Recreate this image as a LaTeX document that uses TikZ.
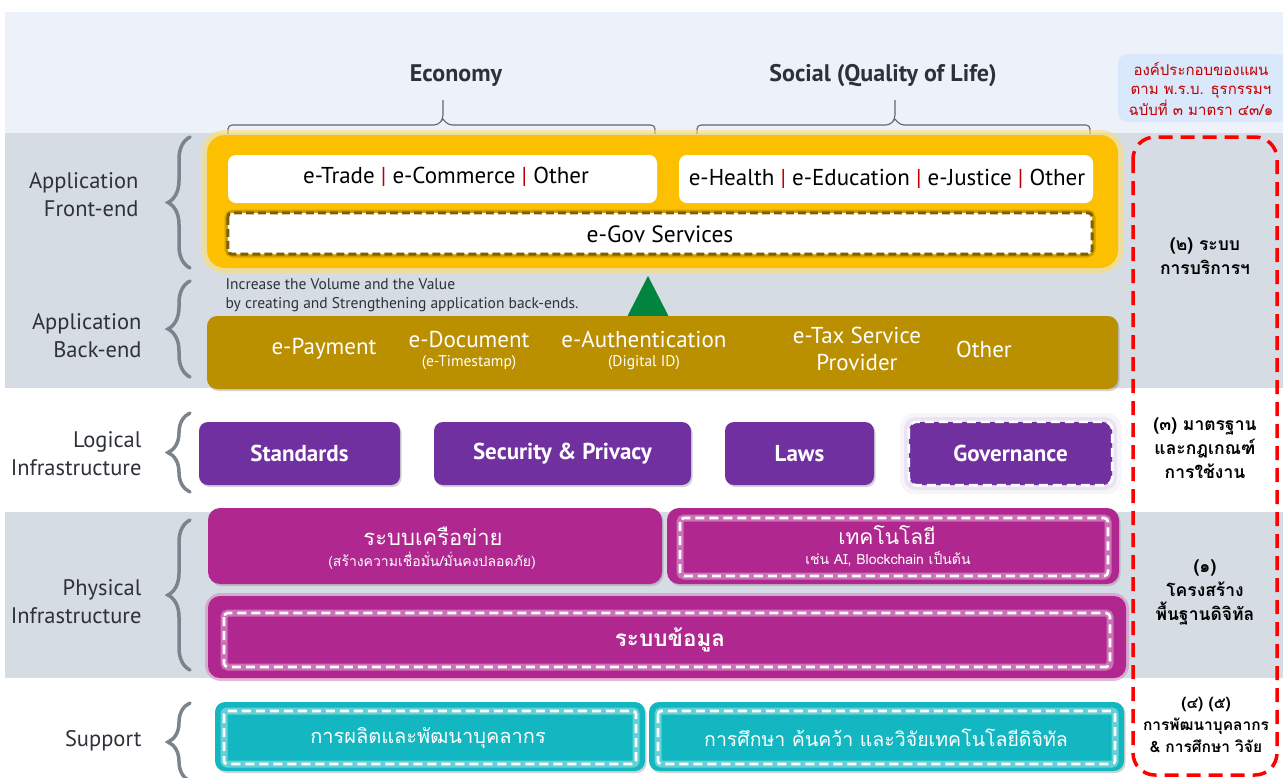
\documentclass[tikz,border=0pt]{standalone}
\usepackage{fontspec}
\setmainfont{PT Sans}
\newfontfamily\thai[Script=Thai]{Loma}
\usetikzlibrary{shadows,decorations.pathreplacing}
\definecolor{topband}{HTML}{EDF1F9}
\definecolor{grayband}{HTML}{D6DCE4}
\definecolor{amber}{HTML}{FCC000}
\definecolor{goldbk}{HTML}{BA8F00}
\definecolor{egovline}{HTML}{7F6000}
\definecolor{purp}{HTML}{7030A0}
\definecolor{mag}{HTML}{B0288F}
\definecolor{teal}{HTML}{12B7C2}
\definecolor{tri}{HTML}{00843E}
\definecolor{darkred}{HTML}{C00000}
\definecolor{lblue}{HTML}{D9E8FA}
\definecolor{bracegray}{HTML}{7B838C}
\definecolor{labgray}{HTML}{2E3238}
\begin{document}
\begin{tikzpicture}[x=1pt,y=-1pt,
  box/.style={rounded corners=#1, inner sep=0pt, draw=none},
  box/.default=10pt,
  sh/.style={drop shadow={opacity=0.35, shadow xshift=1.5pt, shadow yshift=-2pt}},
  lab/.style={font=\fontsize{22.5}{28}\selectfont, text=labgray, align=right, anchor=east},
  wt/.style={text=white, font=\fontsize{23}{26}\selectfont},
  wsub/.style={text=white, font=\fontsize{15.5}{17}\selectfont},
  wbold/.style={text=white, font=\bfseries\fontsize{23}{26}\selectfont},
  rcol/.style={font=\thai\bfseries\fontsize{17.5}{24}\selectfont, align=center, text=black},
  lbrace/.style={decorate, decoration={brace, amplitude=22pt}, draw=bracegray, line width=3.5pt, line cap=round},
  tbrace/.style={draw=gray!80!black, line width=1.1pt, rounded corners=4pt},
  wdash/.style={draw=white, line width=2.6pt, dash pattern=on 9pt off 5pt, rounded corners=4pt}
]
\useasboundingbox (0,0) rectangle (1283,777);
% bands
\fill[white] (0,0) rectangle (1283,777);
\fill[topband] (5,12) rectangle (1283,133);
\fill[grayband] (5,133) rectangle (1283,388);
\fill[grayband] (5,512) rectangle (1283,678);

% top labels and braces
\node[font=\bfseries\fontsize{24}{28}\selectfont, text=labgray] (eco) at (456,76) {Economy};
\node[font=\bfseries\fontsize{24}{28}\selectfont, text=labgray] (soc) at (883,76) {Social (Quality of Life)};
\draw[tbrace] (228,134) -- (228,125) -- (438,125) -- (443,119) -- (443,100);
\draw[tbrace] (655,134) -- (655,125) -- (448,125) -- (443,119);
\draw[tbrace] (697,134) -- (697,125) -- (890,125) -- (895,119) -- (895,100);
\draw[tbrace] (1090,134) -- (1090,125) -- (900,125) -- (895,119);

% right column
\node[box=10pt, fill=lblue, minimum width=170pt, minimum height=68pt] (leg) at (1203,88) {};
\node[font=\thai\fontsize{15}{19}\selectfont, text=darkred, align=center] (legt) at (1201,89)
  {องค์ประกอบของแผน\\ตาม พ.ร.บ. ธุรกรรมฯ\\ฉบับที่ ๓ มาตรา ๔๓/๑};
\draw[red, line width=3.5pt, dash pattern=on 14pt off 8pt, rounded corners=22pt] (1133,137) rectangle (1277,775);
\node[rcol] (r2) at (1205,256) {(๒) ระบบ\\การบริการฯ};
\node[rcol] (r3) at (1205,448) {(๓) มาตรฐาน\\และกฎเกณฑ์\\การใช้งาน};
\node[rcol] (r1) at (1205,592) {(๑)\\โครงสร้าง\\พื้นฐานดิจิทัล};
\node[rcol, font=\thai\bfseries\fontsize{15.5}{22}\selectfont] (r45) at (1206,725) {(๔) (๕)\\การพัฒนาบุคลากร\\\& การศึกษา วิจัย};

% left labels and braces
\node[lab] (l1) at (142,195) {Application\\Front-end};
\node[lab] (l2) at (145,336) {Application\\Back-end};
\node[lab] (l3) at (145,454) {Logical\\Infrastructure};
\node[lab] (l4) at (145,602) {Physical\\Infrastructure};
\node[lab] (l5) at (145,741) {Support};
\draw[lbrace] (190,268) -- (190,137);
\draw[lbrace] (190,377) -- (190,281);
\draw[lbrace] (190,492) -- (190,413);
\draw[lbrace] (190,670) -- (190,520);
\draw[lbrace] (190,781) -- (190,703);

% application front-end
\fill[amber!55, opacity=0.6, rounded corners=22pt] (202,130) rectangle (1123,273);
\node[box=18pt, fill=amber, minimum width=911pt, minimum height=133pt] (front) at (662.5,201.5) {};
\node[box=8pt, fill=white, minimum width=429pt, minimum height=48pt] (eco1) at (442.5,179) {};
\node[font=\fontsize{23}{26}\selectfont] (eco1t) at (446,177) {e-Trade \textcolor{darkred}{|} e-Commerce \textcolor{darkred}{|} Other};
\node[box=8pt, fill=white, minimum width=414pt, minimum height=48pt] (soc1) at (886,179) {};
\node[font=\fontsize{23}{26}\selectfont] (soc1t) at (887,179) {e-Health \textcolor{darkred}{|} e-Education \textcolor{darkred}{|} e-Justice \textcolor{darkred}{|} Other};
\draw[egovline, opacity=0.35, line width=7pt, rounded corners=5pt] (228,213) rectangle (1092,254);
\node[box=4pt, fill=white, minimum width=864pt, minimum height=41pt] (egov) at (660,233.5) {};
\draw[egovline, line width=3pt, dash pattern=on 8pt off 4pt, rounded corners=4pt] (egov.north west) rectangle (egov.south east);
\node[font=\fontsize{23.5}{26}\selectfont] (egovt) at (660,234) {e-Gov Services};

% note and triangle
\node[anchor=west, font=\fontsize{15.5}{19}\selectfont, text=labgray, align=left] (note) at (222,295)
  {Increase the Volume and the Value\\by creating and Strengthening application back-ends.};
\fill[tri] (648,276) -- (669,317) -- (627,317) -- cycle;

% application back-end
\node[box=10pt, fill=goldbk, sh, minimum width=911pt, minimum height=73pt] (back) at (662.5,352.5) {};
\node[wt] (bp) at (324,349) {e-Payment};
\node[wt] (bd) at (469,339) {e-Document};
\node[wsub] (bds) at (469,363) {(e-Timestamp)};
\node[wt] (ba) at (644,339) {e-Authentication};
\node[wsub] (bas) at (644,363) {(Digital ID)};
\node[wt, align=center, font=\fontsize{23}{27}\selectfont] (bt) at (857,349) {e-Tax Service\\Provider};
\node[wt] (bo) at (984,349) {Other};

% logical infrastructure
\node[box=9pt, fill=purp, sh, minimum width=201pt, minimum height=63pt, wbold] (std) at (299.5,453.5) {Standards};
\node[box=9pt, fill=purp, sh, minimum width=257pt, minimum height=63pt, wbold] (sec) at (562.5,453.5) {Security \& Privacy};
\node[box=9pt, fill=purp, sh, minimum width=149pt, minimum height=63pt, wbold] (law) at (799.5,453.5) {Laws};
\fill[purp!40, opacity=0.25, rounded corners=12pt] (904,417) rectangle (1117,490);
\fill[purp!30, opacity=0.15, rounded corners=14pt] (900,413) rectangle (1121,494);
\node[box=9pt, fill=purp, minimum width=203pt, minimum height=63pt, wbold] (gov) at (1010.5,453.5) {Governance};
\draw[wdash, rounded corners=8pt] (gov.north west) rectangle (gov.south east);

% physical infrastructure
\node[box=12pt, fill=mag, sh, minimum width=454pt, minimum height=76pt] (net) at (435,546) {};
\node[text=white, font=\thai\fontsize{22}{26}\selectfont] (nett) at (433,536) {ระบบเครือข่าย};
\node[text=white, font=\thai\fontsize{14}{16}\selectfont] (nets) at (432,561) {(สร้างความเชื่อมั่น/มั่นคงปลอดภัย)};
\node[box=12pt, fill=mag, sh, minimum width=452pt, minimum height=76pt] (tech) at (893,546) {};
\draw[white, opacity=0.35, line width=7pt, rounded corners=4pt] (680,518) rectangle (1108,576);
\draw[wdash] (680,518) rectangle (1108,576);
\node[text=white, font=\thai\fontsize{21}{26}\selectfont] (techt) at (887,535) {เทคโนโลยี};
\node[text=white, font=\thai\fontsize{14}{16}\selectfont] (techs) at (888,559) {เช่น AI, Blockchain เป็นต้น};
\fill[mag!55, opacity=0.6, rounded corners=16pt] (205,593) rectangle (1129,681);
\node[box=12pt, fill=mag, minimum width=918pt, minimum height=82pt] (data) at (667,637) {};
\draw[white, opacity=0.35, line width=7pt, rounded corners=4pt] (224,613) rectangle (1110,667);
\draw[wdash] (224,613) rectangle (1110,667);
\node[text=white, font=\thai\bfseries\fontsize{22.5}{26}\selectfont] (datat) at (670,640) {ระบบข้อมูล};

% support
\node[box=10pt, fill=teal, sh, minimum width=430pt, minimum height=69pt] (sup1) at (430,736.5) {};
\draw[white, opacity=0.35, line width=7pt, rounded corners=3pt] (224,711) rectangle (636,764);
\draw[wdash, rounded corners=3pt] (224,711) rectangle (636,764);
\node[text=white, font=\thai\fontsize{20}{24}\selectfont] (sup1t) at (428,738) {การผลิตและพัฒนาบุคลากร};
\node[box=10pt, fill=teal, sh, minimum width=475pt, minimum height=69pt] (sup2) at (886.5,736.5) {};
\draw[white, opacity=0.35, line width=7pt, rounded corners=3pt] (658,711) rectangle (1115,764);
\draw[wdash, rounded corners=3pt] (658,711) rectangle (1115,764);
\node[text=white, font=\thai\fontsize{19.5}{24}\selectfont] (sup2t) at (886,738) {การศึกษา ค้นคว้า และวิจัยเทคโนโลยีดิจิทัล};
\end{tikzpicture}
\end{document}
